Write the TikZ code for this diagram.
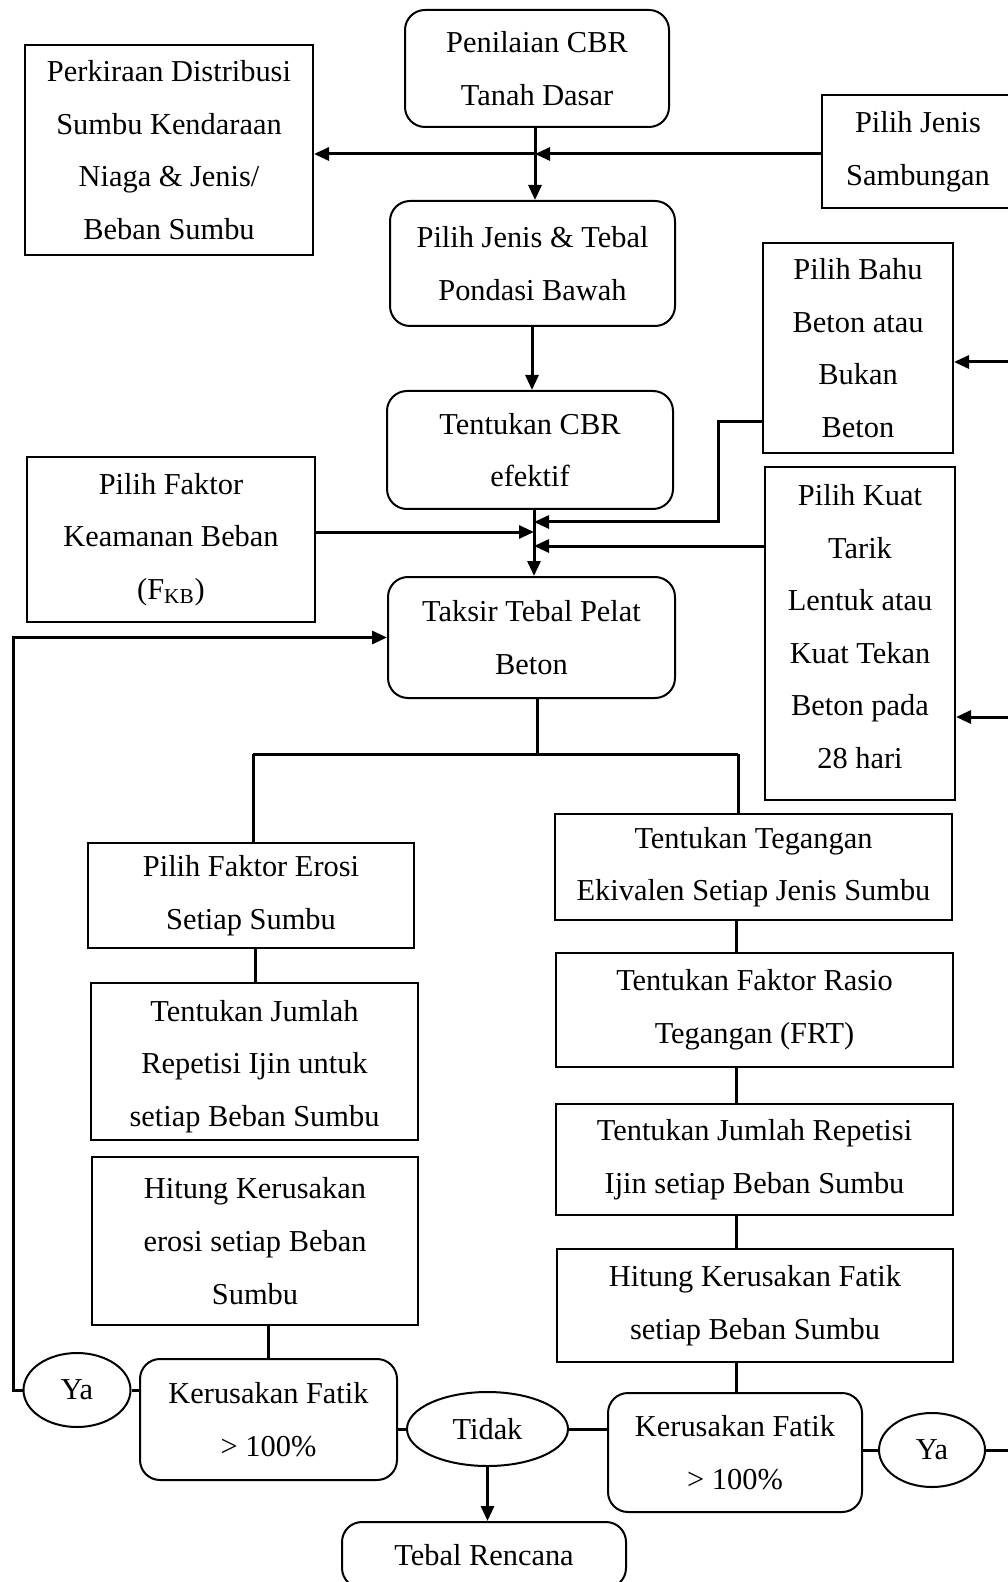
\documentclass[tikz,border=0pt]{standalone}
\usepackage{fontspec}
\setmainfont{Liberation Serif}
\usetikzlibrary{arrows.meta,shapes.geometric}
\newcommand\tfont{\fontsize{15.2pt}{26.3pt}\selectfont}
\tikzset{
  sz/.style 2 args={minimum width=#1*0.5pt, minimum height=#2*0.5pt},
  basebox/.style={draw, line width=1pt, inner sep=0pt, align=center, font=\tfont},
  sbox/.style={basebox},
  rbox/.style={basebox, rounded corners=10pt},
  ebox/.style={basebox, ellipse},
  inlabel/.style={font=\tfont, align=center, inner sep=0pt},
  conn/.style={line width=1.5pt},
  arr/.style={conn, -{Triangle[length=7.5pt,width=6.5pt]}},
}
\begin{document}
\begin{tikzpicture}[x=0.5pt,y=-0.5pt]
\fill[white] (0,0) rectangle (1007,1582);
\useasboundingbox (0,0) rectangle (1007,1582);

% nodes
\node[rbox, sz={264}{117}] (pen) at (537,68.5) {Penilaian CBR\\Tanah Dasar};
\node[sbox, sz={288}{210}] (perk) at (169,150) {Perkiraan Distribusi\\Sumbu Kendaraan\\Niaga \& Jenis/\\Beban Sumbu};
\node[sbox, sz={192}{113}] (samb) at (918,151.5) {Pilih Jenis\\Sambungan};
\node[rbox, sz={285}{125}] (pond) at (532.5,263.5) {Pilih Jenis \& Tebal\\Pondasi Bawah};
\node[rbox, sz={286}{118}] (cbr) at (530,450) {Tentukan CBR\\efektif};
\node[sbox, sz={190}{210}] (bahu) at (858,348) {Pilih Bahu\\Beton atau\\Bukan\\Beton};
\node[sbox, sz={190}{333}, label={[inlabel, yshift=3.5pt]center:{Pilih Kuat\\Tarik\\Lentuk atau\\Kuat Tekan\\Beton pada\\28 hari}}] (kuat) at (860,633.5) {};
\node[sbox, sz={288}{165}] (fkb) at (171,539.5) {Pilih Faktor\\Keamanan Beban\\(F\textsubscript{KB})};
\node[rbox, sz={287}{121}] (taksir) at (531.5,637.5) {Taksir Tebal Pelat\\Beton};
\node[sbox, sz={326}{105}] (erosi) at (251,895.5) {Pilih Faktor Erosi\\Setiap Sumbu};
\node[sbox, sz={327}{157}, label={[inlabel, yshift=-2.5pt]center:{Tentukan Jumlah\\Repetisi Ijin untuk\\setiap Beban Sumbu}}] (rep1) at (254.5,1061.5) {};
\node[sbox, sz={326}{168}] (hit1) at (255,1241) {Hitung Kerusakan\\erosi setiap Beban\\Sumbu};
\node[rbox, sz={257}{121}] (kf1) at (268.5,1419.5) {Kerusakan Fatik\\> 100\%};
\node[ebox, sz={107}{74}] (ya1) at (77,1390) {Ya};
\node[ebox, sz={161}{74}] (tidak) at (487.5,1429) {Tidak};
\node[rbox, sz={284}{66}] (tebal) at (484,1555) {Tebal Rencana};
\node[rbox, sz={254}{119}] (kf2) at (735,1452.5) {Kerusakan Fatik\\> 100\%};
\node[ebox, sz={106}{74}] (ya2) at (932,1450) {Ya};
\node[sbox, sz={397}{106}] (teg) at (753.5,867) {Tentukan Tegangan\\Ekivalen Setiap Jenis Sumbu};
\node[sbox, sz={397}{114}] (frt) at (754.5,1010) {Tentukan Faktor Rasio\\Tegangan (FRT)};
\node[sbox, sz={397}{111}] (rep2) at (754.5,1159.5) {Tentukan Jumlah Repetisi\\Ijin setiap Beban Sumbu};
\node[sbox, sz={396}{113}] (hit2) at (755,1305.5) {Hitung Kerusakan Fatik\\setiap Beban Sumbu};

% junction coordinates
\coordinate (j1) at (535,154);
\coordinate (xa) at (532,0);
\coordinate (j2) at (534,532);
\coordinate (j3) at (534,522);
\coordinate (j4) at (534,546);
\coordinate (b1) at (718,422);
\coordinate (lp) at (13,637.5);
\coordinate (s) at (537,754);
\coordinate (sl) at (253,754);
\coordinate (sr) at (738,754);
\coordinate (xl) at (255,0);
\coordinate (xr) at (736,0);
\coordinate (e1) at (1012,1452);
\coordinate (e2) at (1012,362);
\coordinate (e3) at (1012,717);

% top trunk
\draw[arr] (pen.south -| j1) -- (pond.north -| j1);
\draw[arr] (samb.west |- j1) -- (j1);
\draw[arr] (j1) -- (perk.east |- j1);
\draw[arr] (pond.south -| xa) -- (cbr.north -| xa);

% second trunk
\draw[arr] (cbr.south -| j2) -- (taksir.north -| j2);
\draw[arr] (fkb.east |- j2) -- (j2);
\draw[arr] (bahu.west |- b1) -- (b1) |- (j3);
\draw[arr] (kuat.west |- j4) -- (j4);

% from the right edge
\draw[arr] (e2) -- (bahu.east |- e2);
\draw[arr] (e3) -- (kuat.east |- e3);

% split below Taksir
\draw[conn] (taksir.south -| s) -- (s);
\draw[conn] (sl) -- (sr);
\draw[conn] (sl) -- (erosi.north -| sl);
\draw[conn] (sr) -- (teg.north -| sr);

% left column
\draw[conn] (erosi.south -| xl) -- (rep1.north -| xl);
\draw[conn] (hit1.south -| kf1.north) -- (kf1.north);
\draw[conn] (ya1.east) -- (kf1.west |- ya1.east);
\draw[arr] (ya1.west) -| (lp) -- (taksir.west);

% right column
\draw[conn] (teg.south -| xr) -- (frt.north -| xr);
\draw[conn] (frt.south -| xr) -- (rep2.north -| xr);
\draw[conn] (rep2.south -| xr) -- (hit2.north -| xr);
\draw[conn] (hit2.south -| xr) -- (kf2.north -| xr);
\draw[conn] (kf2.east |- ya2.west) -- (ya2.west);
\draw[conn] (ya2.east) -- (e1 |- ya2.east);

% bottom
\draw[conn] (kf1.east |- tidak.west) -- (tidak.west);
\draw[conn] (tidak.east) -- (kf2.west |- tidak.east);
\draw[arr] (tidak.south) -- (tebal.north -| tidak.south);
\end{tikzpicture}
\end{document}
